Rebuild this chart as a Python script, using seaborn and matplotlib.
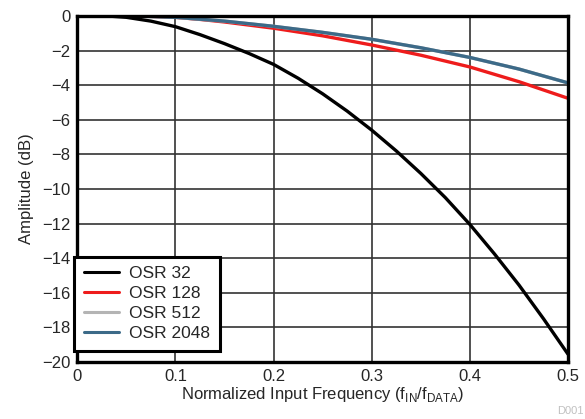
import numpy as np
import pandas as pd
import matplotlib
matplotlib.use("Agg")
import matplotlib.pyplot as plt
import seaborn as sns

# Values
freq_32 = [0.03, 0.05, 0.075, 0.1, 0.125, 0.15, 0.175, 0.2, 0.225, 0.25, 0.275,
           0.3, 0.325, 0.35, 0.375, 0.4, 0.425, 0.45, 0.475, 0.5]
amp_32 = [0.0, -0.08, -0.3, -0.62, -1.08, -1.6, -2.17, -2.8, -3.6, -4.5, -5.5,
          -6.6, -7.8, -9.1, -10.5, -12.05, -13.75, -15.55, -17.5, -19.55]

freq_128 = [0.064, 0.1, 0.125, 0.15, 0.2, 0.25, 0.3, 0.35, 0.4, 0.45, 0.5]
amp_128 = [0.0, -0.08, -0.2, -0.35, -0.71, -1.15, -1.68, -2.27, -2.95, -3.8, -4.76]

freq_512 = [0.03, 0.07, 0.1, 0.15, 0.2, 0.25, 0.3, 0.35, 0.4, 0.45, 0.5]
amp_512 = [0.0, -0.02, -0.08, -0.3, -0.6, -0.95, -1.35, -1.84, -2.4, -3.07, -3.87]

freq_2048 = [0.03, 0.07, 0.1, 0.15, 0.2, 0.25, 0.3, 0.35, 0.4, 0.45, 0.5]
amp_2048 = [0.0, -0.02, -0.08, -0.3, -0.6, -0.95, -1.35, -1.84, -2.4, -3.07, -3.87]

labels = ["OSR 32", "OSR 128", "OSR 512", "OSR 2048"]
colors = ["#000000", "#ee1c1c", "#b4b4b4", "#3c6a88"]

frames = []
for lab, fx, ay in zip(labels, [freq_32, freq_128, freq_512, freq_2048],
                       [amp_32, amp_128, amp_512, amp_2048]):
    frames.append(pd.DataFrame({"freq": fx, "amp": ay, "osr": lab}))
df = pd.concat(frames, ignore_index=True)

sns.set_style("white")
plt.rcParams["font.family"] = ["Liberation Sans", "DejaVu Sans"]

fig = plt.figure(figsize=(5.85, 4.19), dpi=100)
ax = fig.add_axes([0.132, 0.136, 0.839, 0.826])

sns.lineplot(data=df, x="freq", y="amp", hue="osr", hue_order=labels,
             palette=dict(zip(labels, colors)), linewidth=2.4, ax=ax,
             estimator=None, sort=True)

ax.set_xlim(0, 0.5)
ax.set_ylim(-20, 0)
ax.set_xticks(np.arange(0, 0.51, 0.1))
ax.set_xticklabels(["0", "0.1", "0.2", "0.3", "0.4", "0.5"])
ax.set_yticks(np.arange(-20, 1, 2))
ax.tick_params(labelsize=12, length=0, pad=5)
ax.grid(True, color="#333333", linewidth=1.2)
for s in ax.spines.values():
    s.set_color("black")
    s.set_linewidth(2.4)

ax.set_xlabel(r"Normalized Input Frequency (f$_{\mathregular{IN}}$/f$_{\mathregular{DATA}}$)",
              fontsize=12, labelpad=1)
ax.set_ylabel("Amplitude (dB)", fontsize=12, labelpad=6)

leg = ax.legend(loc="lower left", bbox_to_anchor=(-0.006, 0.032), borderaxespad=0,
                fontsize=12.5, frameon=True, fancybox=False,
                handlelength=2.0, handletextpad=0.6,
                labelspacing=0.28, borderpad=0.55)
leg.get_frame().set_edgecolor("black")
leg.get_frame().set_linewidth(2.2)
leg.get_frame().set_alpha(1)
for line in leg.get_lines():
    line.set_linewidth(2.2)

fig.text(0.998, 0.012, "D001", color="#c0c0c0", fontsize=8, ha="right")

fig.savefig("out.png", dpi=100)
